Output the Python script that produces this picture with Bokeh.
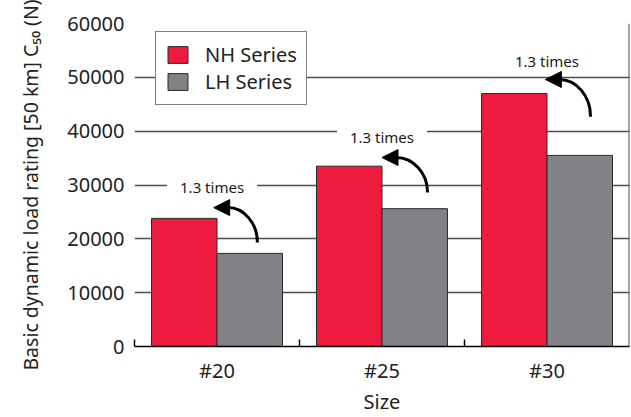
from bokeh.plotting import figure
from bokeh.models import (ColumnDataSource, Range1d, FixedTicker, Span, Legend,
                          LegendItem, Arrow, NormalHead)
from bokeh.core.properties import value
from bokeh.embed import file_html
from bokeh.resources import INLINE

# ---- data ----
sizes = ["#20", "#25", "#30"]
nh_values = [23800, 33500, 47000]
lh_values = [17300, 25600, 35500]
ratio_labels = ["1.3 times", "1.3 times", "1.3 times"]
y_ticks = [0, 10000, 20000, 30000, 40000, 50000, 60000]

# ---- annotation placement (relative to category centre) ----
label_y = [29600, 38900, 53000]
label_dx = [-0.03, 0.0, 0.0]
arrow_start_y = [19300, 28600, 42700]
arrow_tip_y = [25800, 35100, 49600]
arrow_start_dx = [0.245, 0.276, 0.264]
arrow_tip_dx = [-0.02, 0.0, -0.01]

RED = "#EE1B3E"
GRAY = "#808285"
GRID = "#4d4d4d"
FONT = "Noto Sans"

n = len(sizes)
centers = [i + 0.5 for i in range(n)]
bw = 0.397

p = figure(width=631, height=417, output_backend="svg", toolbar_location=None,
           x_range=Range1d(0, n), y_range=Range1d(0, 60000),
           min_border_left=134, min_border_right=2, min_border_top=23,
           min_border_bottom=71)
p.outline_line_color = None
p.xgrid.grid_line_color = None
p.ygrid.grid_line_color = GRID
p.ygrid.grid_line_width = 1.4
p.ygrid.ticker = FixedTicker(ticks=y_ticks)

src_nh = ColumnDataSource(dict(x=[c - bw / 2 for c in centers], top=nh_values))
src_lh = ColumnDataSource(dict(x=[c + bw / 2 for c in centers], top=lh_values))
r_nh = p.vbar(x="x", top="top", width=bw, source=src_nh, fill_color=RED,
              line_color="#2b2b2b", line_width=1)
r_lh = p.vbar(x="x", top="top", width=bw, source=src_lh, fill_color=GRAY,
              line_color="#2b2b2b", line_width=1)

p.add_layout(Span(location=n, dimension="height", line_color=GRID, line_width=2))

# labels with white background breaking the grid line
lab_src = ColumnDataSource(dict(x=[c + d for c, d in zip(centers, label_dx)],
                                y=label_y, text=ratio_labels))
p.text(x="x", y="y", text="text", source=lab_src, text_align="center",
       text_baseline="middle", text_font=value(FONT), text_font_size="15px",
       text_color="#1a1a1a", background_fill_color="white",
       padding=dict(left=13, right=13, top=1, bottom=1))

# curved arrows
head_len = 14 / 165.0
xs = [c + d for c, d in zip(centers, arrow_start_dx)]
xt = [c + d for c, d in zip(centers, arrow_tip_dx)]
xb = [t + head_len for t in xt]
k = 0.552
bez = ColumnDataSource(dict(
    x0=xs, y0=arrow_start_y, x1=xb, y1=arrow_tip_y,
    cx0=xs, cy0=[s + k * (t - s) for s, t in zip(arrow_start_y, arrow_tip_y)],
    cx1=[b + k * (a - b) for a, b in zip(xs, xb)], cy1=arrow_tip_y))
p.bezier(x0="x0", y0="y0", x1="x1", y1="y1", cx0="cx0", cy0="cy0",
         cx1="cx1", cy1="cy1", source=bez, line_color="black", line_width=3)
head_src = ColumnDataSource(dict(xb=[b + 0.01 for b in xb], xt=xt, y=arrow_tip_y))
p.add_layout(Arrow(end=NormalHead(size=16, fill_color="black", line_color="black",
                                  line_width=1),
                   x_start="xb", y_start="y", x_end="xt", y_end="y",
                   source=head_src, line_width=3, line_color="black"))

# axes
xa = p.xaxis[0]
xa.ticker = FixedTicker(ticks=centers, minor_ticks=list(range(n)))
xa.major_label_overrides = {c: s for c, s in zip(centers, sizes)}
xa.axis_line_color = "black"
xa.axis_line_width = 1.5
xa.major_tick_line_color = None
xa.minor_tick_in = 7
xa.minor_tick_out = 0
xa.minor_tick_line_color = "black"
xa.minor_tick_line_width = 1.5
xa.major_label_standoff = 4
xa.major_label_text_font = FONT
xa.major_label_text_font_size = "20px"
xa.major_label_text_color = "#222222"
xa.axis_label = "Size"
xa.axis_label_standoff = 1
xa.axis_label_text_font = FONT
xa.axis_label_text_font_size = "20px"
xa.axis_label_text_font_style = "normal"
xa.axis_label_text_color = "#222222"

ya = p.yaxis[0]
ya.ticker = FixedTicker(ticks=y_ticks)
ya.axis_line_color = None
ya.major_tick_line_color = None
ya.minor_tick_line_color = None
ya.major_tick_in = 0
ya.major_tick_out = 0
ya.major_label_standoff = 10
ya.major_label_text_font = FONT
ya.major_label_text_font_size = "20px"
ya.major_label_text_color = "#222222"
ya.axis_label = "Basic dynamic load rating [50 km] C\u2085\u2080 (N)"
ya.axis_label_standoff = 20
ya.axis_label_text_font = FONT
ya.axis_label_text_font_size = "19.5px"
ya.axis_label_text_font_style = "normal"
ya.axis_label_text_color = "#222222"

legend = Legend(items=[LegendItem(label="NH Series", renderers=[r_nh]),
                       LegendItem(label="LH Series", renderers=[r_lh])],
                location=(21, 241))
legend.border_line_color = "black"
legend.border_line_width = 1
legend.background_fill_color = "white"
legend.background_fill_alpha = 1
legend.label_text_font = FONT
legend.label_text_font_size = "20px"
legend.label_text_color = "#222222"
legend.glyph_width = 25
legend.glyph_height = 21
legend.label_height = 21
legend.label_standoff = 15
legend.spacing = 0
legend.padding = 9
legend.margin = 0
p.add_layout(legend)

open("out.html", "w").write(file_html(p, INLINE))
